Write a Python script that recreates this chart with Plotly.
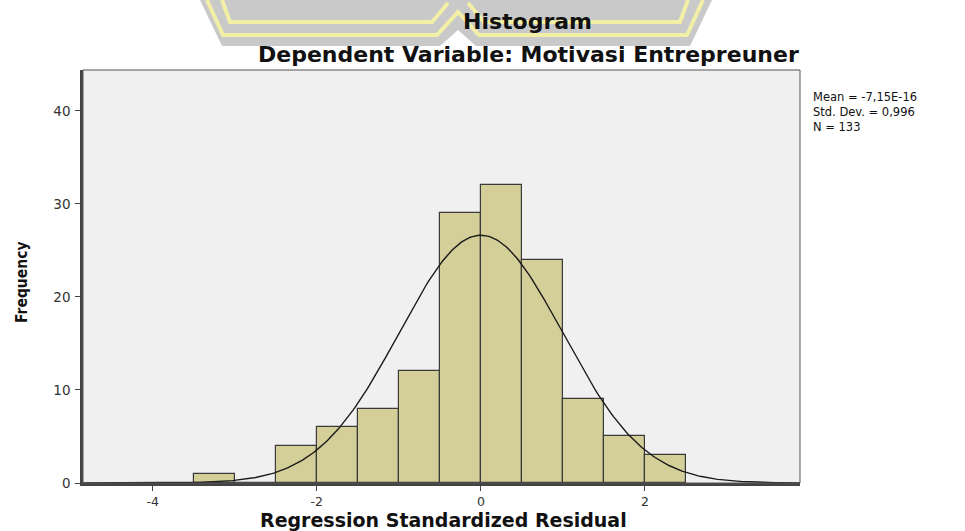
import numpy as np
import plotly.graph_objects as go

bin_left = [-3.5, -3.0, -2.5, -2.0, -1.5, -1.0, -0.5, 0.0, 0.5, 1.0, 1.5, 2.0]
freq = [1, 0, 4, 6, 8, 12, 29, 32, 24, 9, 5, 3]
bin_width = 0.5
mean_val = -7.15e-16
sd_val = 0.996
n_val = 133
x_ticks = [-4, -2, 0, 2]
y_ticks = [0, 10, 20, 30, 40]
stats_lines = ["Mean = -7,15E-16", "Std. Dev. = 0,996", "N = 133"]

centers = [b + bin_width / 2 for b in bin_left]
xs = np.linspace(-4.85, 3.9, 400)
curve = n_val * bin_width * np.exp(-0.5 * ((xs - mean_val) / sd_val) ** 2) / (sd_val * np.sqrt(2 * np.pi))

W, H = 965, 531
L, R, T, B = 83, 165, 70, 48
PW, PH = W - L - R, H - T - B


def px(x, y):
    return ((x - L) / PW, (H - B - y) / PH)


def path(pts, close=False):
    s = ""
    for i, (x, y) in enumerate(pts):
        a, b = px(x, y)
        s += ("M" if i == 0 else "L") + f"{a:.4f},{b:.4f} "
    return s + ("Z" if close else "")


fig = go.Figure()
fig.add_trace(go.Bar(x=centers, y=freq, width=bin_width,
                     marker=dict(color="#D4CE98", line=dict(color="#3a3a3a", width=1.2)),
                     hoverinfo="skip"))
fig.add_trace(go.Scatter(x=xs, y=curve, mode="lines",
                         line=dict(color="#1a1a1a", width=1.4), hoverinfo="skip"))

axis_common = dict(ticks="outside", ticklen=5, tickcolor="#444", showgrid=False, zeroline=False,
                   showline=True, linecolor="#444", linewidth=2.5, mirror=False, automargin=False)
fig.update_layout(
    width=W, height=H,
    margin=dict(l=L, r=R, t=T, b=B),
    paper_bgcolor="white", plot_bgcolor="#F0F0F0",
    showlegend=False, bargap=0,
    font=dict(family="DejaVu Sans, sans-serif", color="#222"),
    xaxis=dict(range=[-4.85, 3.89], tickvals=x_ticks, ticktext=["-4", "-2", "0", "2"],
               ticklabelstandoff=0,
               tickfont=dict(size=12.5, color="#333", family="DejaVu Sans, sans-serif"), **axis_common),
    yaxis=dict(range=[0, 44.4], tickvals=y_ticks, ticklabelstandoff=2,
               tickfont=dict(size=13.5, color="#333", family="DejaVu Sans, sans-serif"), **axis_common),
)

# faint watermark emblem behind titles
fig.add_shape(type="path", xref="paper", yref="paper", layer="below",
              path=path([(200, 0), (222, 46), (440, 46), (458, 30), (476, 46), (690, 46), (712, 0)], True),
              fillcolor="#C9C9C9", line=dict(width=0))
fig.add_shape(type="path", xref="paper", yref="paper", layer="below",
              path=path([(207, 0), (223, 35), (437, 35), (458, 12), (479, 35), (687, 35), (703, 0)]),
              line=dict(color="#F3EFA6", width=4))
fig.add_shape(type="path", xref="paper", yref="paper", layer="below",
              path=path([(222, 0), (230, 22), (432, 22), (448, 3)]),
              line=dict(color="#F3EFA6", width=4))
fig.add_shape(type="path", xref="paper", yref="paper", layer="below",
              path=path([(468, 3), (484, 22), (680, 22), (688, 0)]),
              line=dict(color="#F3EFA6", width=4))

# thin frame on top/right
fig.add_shape(type="rect", xref="paper", yref="paper", x0=0, y0=0, x1=1, y1=1,
              line=dict(color="#555", width=1), layer="above")

tfont = dict(size=22, color="#111", family="DejaVu Sans, sans-serif")
fig.add_annotation(text="<b>Histogram</b>", xref="paper", yref="paper", x=px(527, 0)[0], y=px(0, 21)[1],
                   showarrow=False, font=tfont, yanchor="middle", xanchor="center")
fig.add_annotation(text="<b>Dependent Variable: Motivasi Entrepreuner</b>", xref="paper", yref="paper",
                   x=px(528, 0)[0], y=px(0, 54)[1], showarrow=False, font=tfont,
                   yanchor="middle", xanchor="center")
fig.add_annotation(text="<b>Regression Standardized Residual</b>", xref="paper", yref="paper",
                   x=px(443, 0)[0], y=px(0, 532)[1], showarrow=False,
                   font=dict(size=19, color="#111", family="DejaVu Sans, sans-serif"),
                   yanchor="bottom", xanchor="center", borderpad=0)
fig.add_annotation(text="<b>Frequency</b>", xref="paper", yref="paper", x=px(22, 0)[0], y=px(0, 282)[1],
                   textangle=-90, showarrow=False,
                   font=dict(size=15.5, color="#111", family="Liberation Sans Narrow, DejaVu Sans Condensed, sans-serif"),
                   xanchor="center", yanchor="middle")
fig.add_annotation(text="<br>".join(stats_lines), xref="paper", yref="paper",
                   x=px(812, 0)[0], y=px(0, 89)[1], xanchor="left", yanchor="top", align="left",
                   showarrow=False, borderpad=0,
                   font=dict(size=11.5, color="#111", family="DejaVu Sans, sans-serif"))

fig.write_html("out.html", config={"displayModeBar": False},
               post_script="document.body.style.margin='0';document.body.style.padding='0';")
